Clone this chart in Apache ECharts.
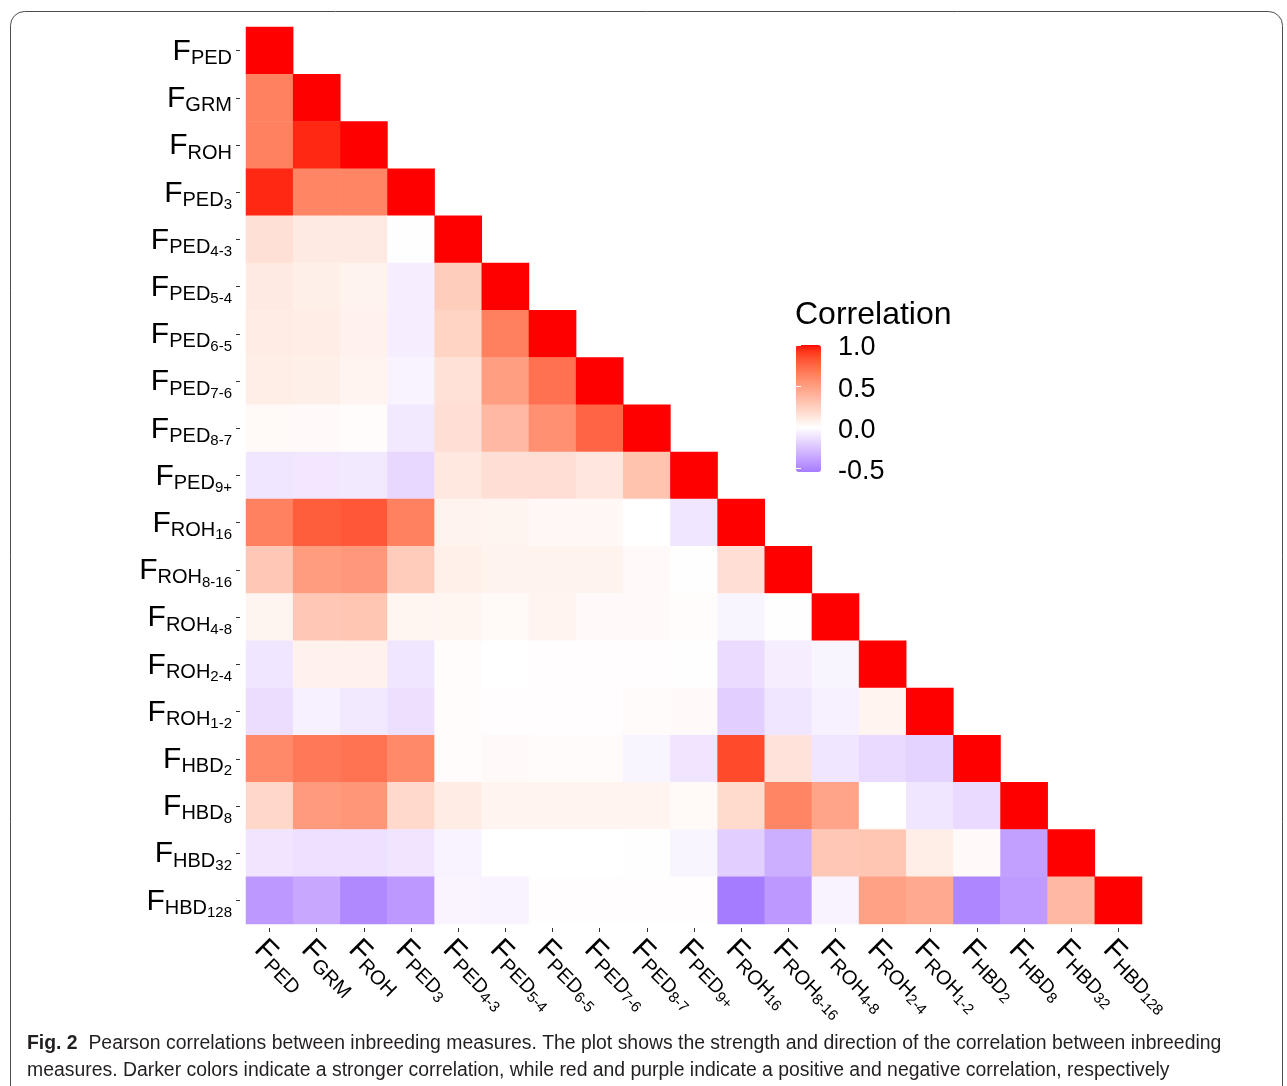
<!DOCTYPE html>
<html>
<head>
<meta charset="utf-8">
<script src="https://cdn.jsdelivr.net/npm/echarts@6/dist/echarts.min.js"></script>
<style>
html,body{margin:0;padding:0;background:#ffffff;}
#chart{width:1287px;height:1086px;}
</style>
</head>
<body>
<div id="chart"></div>
<script>
// ---------- data ----------
const categories = ['FPED','FGRM','FROH','FPED3','FPED4-3','FPED5-4','FPED6-5','FPED7-6','FPED8-7','FPED9+',
  'FROH16','FROH8-16','FROH4-8','FROH2-4','FROH1-2','FHBD2','FHBD8','FHBD32','FHBD128'];
const labelSub = ['PED','GRM','ROH','PED','PED','PED','PED','PED','PED','PED',
  'ROH','ROH','ROH','ROH','ROH','HBD','HBD','HBD','HBD'];
const labelSubSub = ['','','','3','4-3','5-4','6-5','7-6','8-7','9+',
  '16','8-16','4-8','2-4','1-2','2','8','32','128'];

// lower triangle of the correlation matrix, one row per measure (row order = categories)
const rowFPED    = [1];
const rowFGRM    = [0.64, 1];
const rowFROH    = [0.64, 0.95, 1];
const rowFPED3   = [0.95, 0.62, 0.62, 1];
const rowFPED4_3 = [0.16, 0.11, 0.11, -0.01, 1];
const rowFPED5_4 = [0.11, 0.085, 0.065, -0.07, 0.26, 1];
const rowFPED6_5 = [0.10, 0.095, 0.07, -0.07, 0.225, 0.645, 1];
const rowFPED7_6 = [0.09, 0.085, 0.06, -0.05, 0.155, 0.50, 0.71, 1];
const rowFPED8_7 = [0.03, 0.025, 0.015, -0.09, 0.165, 0.37, 0.565, 0.76, 1];
const rowFPED9p  = [-0.10, -0.095, -0.09, -0.16, 0.12, 0.165, 0.165, 0.13, 0.315, 1];
const rowFROH16  = [0.64, 0.79, 0.815, 0.64, 0.065, 0.055, 0.035, 0.035, 0.0, -0.10, 1];
const rowFROH8_16= [0.285, 0.51, 0.53, 0.265, 0.08, 0.065, 0.065, 0.065, 0.025, -0.005, 0.165, 1];
const rowFROH4_8 = [0.055, 0.285, 0.295, 0.05, 0.05, 0.03, 0.06, 0.025, 0.025, 0.015, -0.04, -0.005, 1];
const rowFROH2_4 = [-0.10, 0.075, 0.07, -0.10, 0.015, 0.0, 0.01, 0.01, 0.01, -0.005, -0.14, -0.07, -0.04, 1];
const rowFROH1_2 = [-0.135, -0.06, -0.09, -0.13, 0.015, 0.01, 0.01, 0.01, 0.02, 0.025, -0.20, -0.10, -0.06, 0.06, 1];
const rowFHBD2   = [0.60, 0.68, 0.70, 0.60, 0.015, 0.025, 0.02, 0.02, -0.04, -0.11, 0.86, 0.145, -0.10, -0.15, -0.18, 1];
const rowFHBD8   = [0.205, 0.52, 0.54, 0.195, 0.10, 0.06, 0.06, 0.06, 0.06, 0.03, 0.19, 0.62, 0.47, 0.0, -0.10, -0.15, 1];
const rowFHBD32  = [-0.11, -0.12, -0.12, -0.11, -0.05, 0.0, 0.0, 0.0, -0.005, -0.04, -0.20, -0.33, 0.285, 0.295, 0.09, 0.025, -0.39, 1];
const rowFHBD128 = [-0.42, -0.36, -0.49, -0.42, -0.045, -0.05, 0.008, 0.008, 0.008, 0.008, -0.54, -0.42, -0.05, 0.485, 0.44, -0.50, -0.41, 0.37, 1];

const legendTicks = [-0.5, 0, 0.5, 1];
const scaleMin = -0.54, scaleMax = 1;

const rows = [rowFPED,rowFGRM,rowFROH,rowFPED3,rowFPED4_3,rowFPED5_4,rowFPED6_5,rowFPED7_6,rowFPED8_7,rowFPED9p,
  rowFROH16,rowFROH8_16,rowFROH4_8,rowFROH2_4,rowFROH1_2,rowFHBD2,rowFHBD8,rowFHBD32,rowFHBD128];

const heatData = [];
rows.forEach((r, i) => r.forEach((v, j) => heatData.push([j, i, v])));

// ---------- colour ramp (Lab interpolation, white at 0) ----------
function srgbToLin(c){c/=255;return c<=0.04045?c/12.92:Math.pow((c+0.055)/1.055,2.4);}
function linToSrgb(c){c=c<=0.0031308?12.92*c:1.055*Math.pow(c,1/2.4)-0.055;return Math.max(0,Math.min(255,Math.round(c*255)));}
function rgb2lab(rgb){
  const r=srgbToLin(rgb[0]),g=srgbToLin(rgb[1]),b=srgbToLin(rgb[2]);
  let X=(0.4124*r+0.3576*g+0.1805*b)/0.95047,Y=(0.2126*r+0.7152*g+0.0722*b),Z=(0.0193*r+0.1192*g+0.9505*b)/1.08883;
  const f=t=>t>0.008856?Math.cbrt(t):7.787*t+16/116;
  const fx=f(X),fy=f(Y),fz=f(Z);
  return [116*fy-16,500*(fx-fy),200*(fy-fz)];
}
function lab2rgb(lab){
  const fy=(lab[0]+16)/116,fx=fy+lab[1]/500,fz=fy-lab[2]/200;
  const fi=t=>t*t*t>0.008856?t*t*t:(t-16/116)/7.787;
  const X=fi(fx)*0.95047,Y=fi(fy),Z=fi(fz)*1.08883;
  const r=3.2406*X-1.5372*Y-0.4986*Z,g=-0.9689*X+1.8758*Y+0.0415*Z,b=0.0557*X-0.2040*Y+1.0570*Z;
  return 'rgb('+linToSrgb(r)+','+linToSrgb(g)+','+linToSrgb(b)+')';
}
const labWhite=rgb2lab([255,255,255]), labRed=rgb2lab([255,0,0]), labLow=rgb2lab([166,124,255]);
function mix(a,b,t){return [a[0]+(b[0]-a[0])*t,a[1]+(b[1]-a[1])*t,a[2]+(b[2]-a[2])*t];}
const ramp=[];
const NSTOP=78;
for(let i=0;i<NSTOP;i++){
  const v=scaleMin+(scaleMax-scaleMin)*i/(NSTOP-1);
  ramp.push(v>=0?lab2rgb(mix(labWhite,labRed,v/scaleMax)):lab2rgb(mix(labWhite,labLow,v/scaleMin)));
}

// ---------- labels ----------
const FONT='"Liberation Sans", Arial, Helvetica, sans-serif';
function labelFmt(value){
  const i = categories.indexOf(value);
  let s='{f|F}{s|'+labelSub[i]+'}';
  if(labelSubSub[i]) s+='{t|'+labelSubSub[i]+'}';
  return s;
}
const richLabel={
  f:{fontSize:30,lineHeight:28,padding:[0,0,0,0],verticalAlign:'top',fontFamily:FONT,color:'#000'},
  s:{fontSize:20,lineHeight:28,padding:[12,0,0,0],verticalAlign:'top',fontFamily:FONT,color:'#000'},
  t:{fontSize:15,lineHeight:28,padding:[19,0,0,0],verticalAlign:'top',fontFamily:FONT,color:'#000'}
};

const chart = echarts.init(document.getElementById('chart'), null, {renderer:'canvas'});
const option = {
  animation:false,
  backgroundColor:'#ffffff',
  title:{
    text:'Correlation', left:795, top:299, padding:0,
    textStyle:{fontSize:32,fontWeight:'normal',color:'#000',fontFamily:FONT}
  },
  grid:[
    {left:246, top:27, width:896, height:897},
    {left:796, top:345, width:25, height:127}
  ],
  xAxis:[
    {type:'category', data:categories, gridIndex:0, offset:4,
     axisLine:{show:false}, splitLine:{show:false},
     axisTick:{show:true, alignWithLabel:true, length:4, lineStyle:{color:'#333',width:1}},
     axisLabel:{interval:0, rotate:-45, align:'left', verticalAlign:'top', margin:6, formatter:labelFmt, rich:richLabel}},
    {type:'value', gridIndex:1, show:false, min:0, max:1}
  ],
  yAxis:[
    {type:'category', data:categories, gridIndex:0, inverse:true, offset:6,
     axisLine:{show:false}, splitLine:{show:false},
     axisTick:{show:true, alignWithLabel:true, length:4, lineStyle:{color:'#333',width:1}},
     axisLabel:{interval:0, margin:8, formatter:labelFmt, rich:richLabel}},
    {type:'value', gridIndex:1, position:'right', min:scaleMin, max:scaleMax, z:10,
     axisLine:{show:false}, splitLine:{show:false},
     axisTick:{show:true, inside:true, length:5, customValues:legendTicks, lineStyle:{color:'#ffffff',width:1}},
     axisLabel:{customValues:legendTicks, margin:17, formatter:v=>'{v|'+v.toFixed(1)+'}',
       rich:{v:{fontSize:27, lineHeight:27, padding:[3,0,0,0], verticalAlign:'top', color:'#000', fontFamily:FONT}}}},
    {type:'value', gridIndex:1, position:'left', min:scaleMin, max:scaleMax, z:10,
     axisLine:{show:false}, splitLine:{show:false},
     axisTick:{show:true, inside:true, length:5, customValues:legendTicks, lineStyle:{color:'#ffffff',width:1}},
     axisLabel:{show:false}}
  ],
  visualMap:{
    type:'continuous', seriesIndex:0, dimension:2, min:scaleMin, max:scaleMax,
    calculable:false, show:true, left:796, top:345, itemWidth:25, itemHeight:127, padding:0,
    inRange:{color:ramp}, hoverLink:false
  },
  series:[{
    type:'heatmap', xAxisIndex:0, yAxisIndex:0, data:heatData,
    itemStyle:{borderWidth:0}, emphasis:{disabled:true}
  }],
  graphic:[
    {type:'rect', silent:true, z:-1,
     shape:{x:10.5, y:11.5, width:1272, height:1090, r:14},
     style:{fill:null, stroke:'#4d4d4d', lineWidth:1}},
    {type:'text', left:27, top:1030, silent:true,
     style:{
       text:'{b|Fig. 2}  Pearson correlations between inbreeding measures. The plot shows the strength and direction of the correlation between inbreeding\nmeasures. Darker colors indicate a stronger correlation, while red and purple indicate a positive and negative correlation, respectively',
       font:'19.4px '+FONT, fill:'#231f20', lineHeight:27,
       rich:{b:{fontWeight:'bold', fontSize:19.4, fontFamily:FONT, fill:'#231f20', lineHeight:27}}
     }}
  ]
};
chart.setOption(option);
</script>
</body>
</html>
